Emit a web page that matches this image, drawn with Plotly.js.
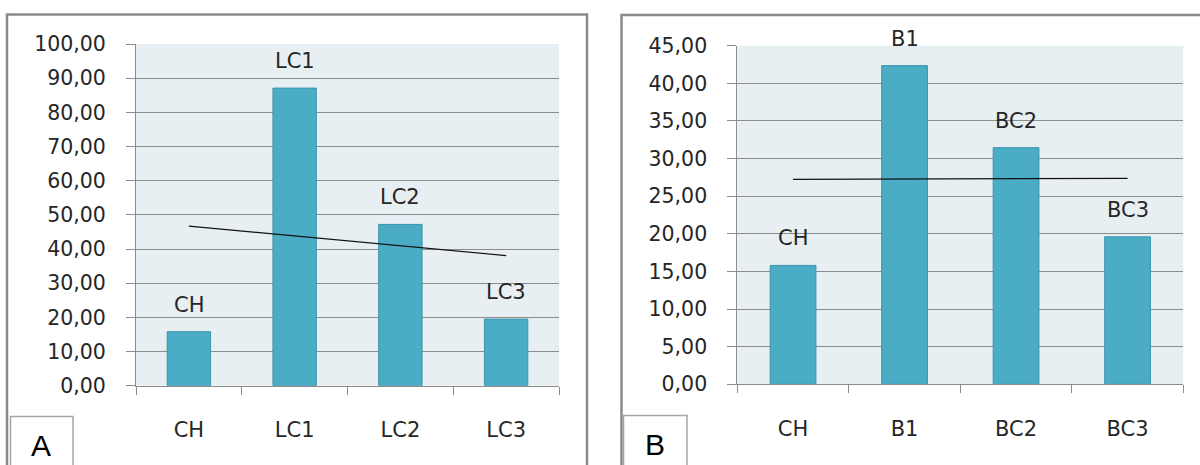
<!DOCTYPE html>
<html>
<head>
<meta charset="utf-8">
<script src="https://cdn.plot.ly/plotly-3.0.1.min.js"></script>
<style>
  html, body { margin: 0; padding: 0; background: #ffffff; }
  #chart { width: 1200px; height: 465px; }
</style>
</head>
<body>
<div id="chart"></div>
<script>
// Panel A: control vs. LC groups
const categoriesA = ['CH', 'LC1', 'LC2', 'LC3'];
const valuesA = [15.8, 87.1, 47.2, 19.5];
const yTicksA = [0, 10, 20, 30, 40, 50, 60, 70, 80, 90, 100];

// Panel B: control vs. B groups
const categoriesB = ['CH', 'B1', 'BC2', 'BC3'];
const valuesB = [15.8, 42.35, 31.45, 19.6];
const yTicksB = [0, 5, 10, 15, 20, 25, 30, 35, 40, 45];

const W = 1200, H = 465;
const px = v => v / W;          // horizontal pixel -> paper
const py = v => 1 - v / H;      // vertical pixel (from top) -> paper

const BAR_FILL = '#4bacc6';
const BAR_EDGE = '#3a93ad';
const GRID = '#8c8c8c';
const FONT = 'DejaVu Sans, sans-serif';

// least-squares linear trend over the category index
function linearTrend(vals) {
  const n = vals.length;
  const xs = vals.map((_, i) => i);
  const mx = xs.reduce((a, b) => a + b, 0) / n;
  const my = vals.reduce((a, b) => a + b, 0) / n;
  let sxy = 0, sxx = 0;
  xs.forEach((x, i) => { sxy += (x - mx) * (vals[i] - my); sxx += (x - mx) * (x - mx); });
  const slope = sxy / sxx;
  return xs.map(x => my + slope * (x - mx));
}

function barTrace(cats, vals, xa, ya) {
  return {
    type: 'bar', x: cats, y: vals, xaxis: xa, yaxis: ya,
    marker: { color: BAR_FILL, line: { color: BAR_EDGE, width: 1 } },
    width: 0.41, hoverinfo: 'x+y', showlegend: false
  };
}

function trendTrace(cats, vals, xa, ya) {
  return {
    type: 'scatter', mode: 'lines', x: cats, y: linearTrend(vals),
    xaxis: xa, yaxis: ya, line: { color: '#111111', width: 1.2 },
    hoverinfo: 'skip', showlegend: false
  };
}

function barLabels(cats, vals, xref, yref) {
  return cats.map((c, i) => ({
    x: c, y: vals[i], xref: xref, yref: yref, text: c, showarrow: false,
    yanchor: 'bottom', yshift: 13,
    font: { family: FONT, size: 21, color: '#262626' }
  }));
}

const data = [
  barTrace(categoriesA, valuesA, 'x', 'y'),
  trendTrace(categoriesA, valuesA, 'x', 'y'),
  barTrace(categoriesB, valuesB, 'x2', 'y2'),
  trendTrace(categoriesB, valuesB, 'x2', 'y2')
];

const xAxisCommon = {
  type: 'category', showgrid: false, zeroline: false,
  showline: true, linecolor: GRID, linewidth: 1,
  ticks: 'outside', tickson: 'boundaries', ticklen: 8, tickcolor: GRID, tickwidth: 1,
  ticklabelstandoff: 25,
  tickfont: { family: FONT, size: 21, color: '#262626' },
  fixedrange: true
};

const yAxisCommon = {
  showgrid: true, gridcolor: GRID, gridwidth: 1, zeroline: false,
  showline: true, linecolor: GRID, linewidth: 1,
  ticks: 'outside', ticklen: 9, tickcolor: GRID, tickwidth: 1,
  ticklabelstandoff: 16,
  tickformat: '.2f',
  tickfont: { family: FONT, size: 20.5, color: '#262626' },
  fixedrange: true
};

const layout = {
  width: W, height: H,
  margin: { l: 0, r: 0, t: 0, b: 0 },
  paper_bgcolor: '#ffffff',
  plot_bgcolor: '#e8eff3',
  separators: ', ',
  showlegend: false,
  xaxis: Object.assign({}, xAxisCommon, { domain: [px(136), px(559)], anchor: 'y', range: [-0.5, 3.5] }),
  yaxis: Object.assign({}, yAxisCommon, { domain: [py(385.7), py(44)], anchor: 'x',
    range: [0, 100], tickvals: yTicksA }),
  xaxis2: Object.assign({}, xAxisCommon, { domain: [px(737.3), px(1183.3)], anchor: 'y2', range: [-0.5, 3.5] }),
  yaxis2: Object.assign({}, yAxisCommon, { domain: [py(384.3), py(45.7)], anchor: 'x2',
    range: [0, 45], tickvals: yTicksB }),
  shapes: [
    // panel frames
    { type: 'rect', xref: 'paper', yref: 'paper', x0: px(7), x1: px(587), y0: py(475), y1: py(14.5),
      line: { color: '#8a8a8a', width: 2.5 }, fillcolor: 'rgba(0,0,0,0)', layer: 'below' },
    { type: 'rect', xref: 'paper', yref: 'paper', x0: px(621.5), x1: px(1215), y0: py(475), y1: py(15),
      line: { color: '#8a8a8a', width: 2.5 }, fillcolor: 'rgba(0,0,0,0)', layer: 'below' },
    // panel letter boxes
    { type: 'rect', xref: 'paper', yref: 'paper', x0: px(10.5), x1: px(73), y0: py(475), y1: py(416.5),
      line: { color: '#a6a6a6', width: 1.5 }, fillcolor: '#ffffff', layer: 'above' },
    { type: 'rect', xref: 'paper', yref: 'paper', x0: px(623.5), x1: px(687), y0: py(475), y1: py(415.5),
      line: { color: '#a6a6a6', width: 1.5 }, fillcolor: '#ffffff', layer: 'above' }
  ],
  annotations: [
    ...barLabels(categoriesA, valuesA, 'x', 'y'),
    ...barLabels(categoriesB, valuesB, 'x2', 'y2'),
    { xref: 'paper', yref: 'paper', x: px(41), y: py(445), text: 'A', showarrow: false,
      xanchor: 'center', yanchor: 'middle',
      font: { family: 'Liberation Sans, Arial, sans-serif', size: 30, color: '#000000' } },
    { xref: 'paper', yref: 'paper', x: px(655), y: py(444), text: 'B', showarrow: false,
      xanchor: 'center', yanchor: 'middle',
      font: { family: 'Liberation Sans, Arial, sans-serif', size: 30, color: '#000000' } }
  ]
};

Plotly.newPlot('chart', data, layout, { displayModeBar: false, responsive: false });
</script>
</body>
</html>
